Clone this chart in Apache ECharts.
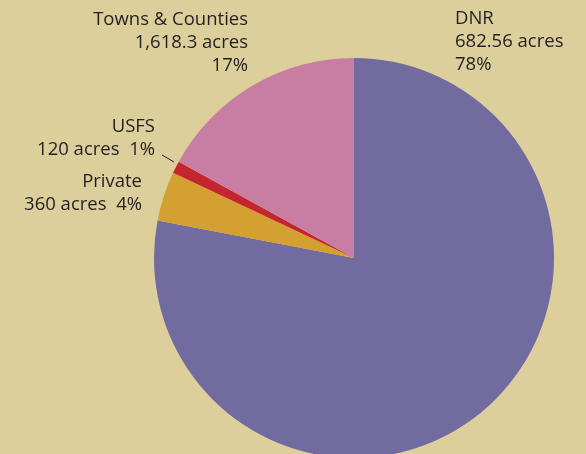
<!DOCTYPE html>
<html>
<head>
<meta charset="utf-8">
<script src="https://cdn.jsdelivr.net/npm/echarts@6/dist/echarts.min.js"></script>
<style>
  html, body { margin: 0; padding: 0; background: #dccf9c; }
  #chart { width: 586px; height: 454px; }
</style>
</head>
<body>
<div id="chart"></div>
<script>
const categories = ['DNR', 'Private', 'USFS', 'Towns & Counties'];
const percents = [78, 4, 1, 17];
const acresLabels = ['682.56 acres', '360 acres', '120 acres', '1,618.3 acres'];
const colors = ['#726b9f', '#d4a032', '#c5252f', '#c87ea2'];

const data = categories.map((c, i) => ({
  name: c,
  value: percents[i],
  itemStyle: { color: colors[i] }
}));

function fmt(p) {
  const i = p.dataIndex;
  const name = categories[i], ac = acresLabels[i], pc = percents[i] + '%';
  if (name === 'DNR' || name === 'Towns & Counties') return name + '\n' + ac + '\n' + pc;
  return name + '\n' + ac + '  ' + pc;
}

// label anchor settings (layout only)
const labelPos = {
  'DNR': { x: 455, y: 7, align: 'left' },
  'Towns & Counties': { x: 248, y: 8, align: 'right' },
  'USFS': { x: 155, y: 115, align: 'right' },
  'Private': { x: 142, y: 170, align: 'right' }
};

const chart = echarts.init(document.getElementById('chart'));
chart.setOption({
  backgroundColor: '#dccf9c',
  animation: false,
  series: [{
    type: 'pie',
    center: [354, 258],
    radius: [0, 200],
    startAngle: 90,
    clockwise: true,
    data: data,
    itemStyle: { borderWidth: 0 },
    emphasis: { disabled: true },
    label: {
      show: true,
      position: 'outside',
      formatter: fmt,
      overflow: 'none',
      fontFamily: 'Open Sans',
      fontSize: 18.5,
      lineHeight: 23,
      color: '#231f20'
    },
    labelLine: { show: false },
    labelLayout: function (params) {
      const name = categories[params.dataIndex];
      const p = labelPos[name];
      return { x: p.x, y: p.y, align: p.align, verticalAlign: 'top', moveOverlap: false, hideOverlap: false };
    }
  }],
  graphic: [{
    type: 'line',
    shape: { x1: 162, y1: 155, x2: 174, y2: 162 },
    style: { stroke: '#231f20', lineWidth: 1 }
  }]
});
</script>
</body>
</html>
